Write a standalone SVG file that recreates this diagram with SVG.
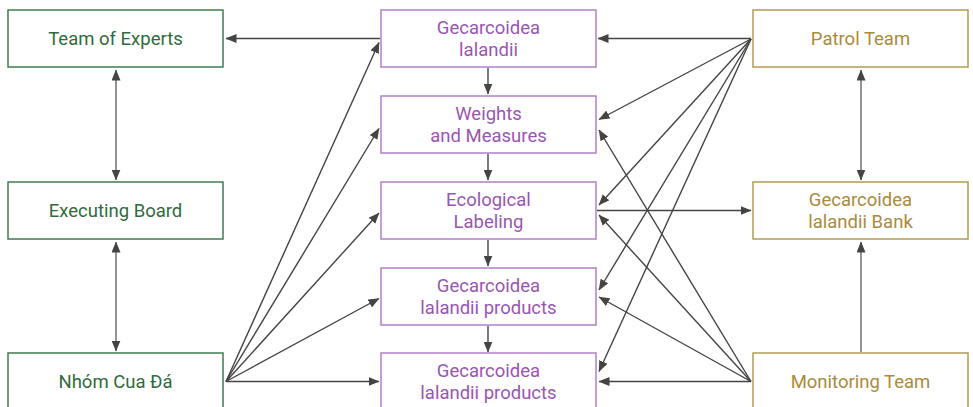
<svg xmlns="http://www.w3.org/2000/svg" width="973" height="407" viewBox="0 0 973 407">
<defs>
<marker id="ah" markerWidth="11" markerHeight="9" refX="10.5" refY="4.5" orient="auto-start-reverse" markerUnits="userSpaceOnUse">
<path d="M0,0 L11,4.5 L0,9 z" fill="#444"/>
</marker>
<style>
.box{fill:#fff;stroke-width:1.5}
.g rect{stroke:#3f7d4e}
.g text{fill:#2f6b3c}
.p rect{stroke:#b17fc7}
.p text{fill:#9a55b3}
.y rect{stroke:#b59a52}
.y text{fill:#a98b3b}
text{font-family:Roboto,"Liberation Sans",sans-serif;font-size:18.5px;text-anchor:middle}
.e line{stroke:#444;stroke-width:1.4;marker-end:url(#ah)}
.e line.d{marker-start:url(#ah)}
.e line.v{stroke:#666}
</style>
</defs>
<rect width="973" height="407" fill="#fff"/>
<g class="e" id="connectors">
<line x1="751" y1="38.5" x2="598" y2="38.5"/>
<line x1="380" y1="38.5" x2="226" y2="38.5"/>
<line class="d v" x1="116" y1="70" x2="116" y2="180"/>
<line class="d v" x1="116" y1="242" x2="116" y2="351"/>
<line class="d v" x1="861" y1="70" x2="861" y2="180"/>
<line class="v" x1="861" y1="352" x2="861" y2="242"/>
<line x1="488" y1="68" x2="488" y2="94"/>
<line x1="488" y1="154" x2="488" y2="180"/>
<line x1="488" y1="240" x2="488" y2="266"/>
<line x1="488" y1="326" x2="488" y2="352"/>
<line x1="751" y1="39" x2="599" y2="119.5"/>
<line x1="751" y1="39" x2="599" y2="205"/>
<line x1="751" y1="39" x2="599" y2="290"/>
<line x1="751" y1="39" x2="599" y2="371.5"/>
<line x1="751" y1="381.5" x2="599" y2="130"/>
<line x1="751" y1="381.5" x2="599" y2="215"/>
<line x1="751" y1="381.5" x2="599" y2="297"/>
<line x1="751" y1="381.5" x2="599" y2="381.5"/>
<line x1="597" y1="210.5" x2="751" y2="210.5"/>
<line x1="226" y1="381.5" x2="379" y2="42.5"/>
<line x1="226" y1="381.5" x2="379" y2="128.5"/>
<line x1="226" y1="381.5" x2="379" y2="213"/>
<line x1="226" y1="381.5" x2="379" y2="298.5"/>
<line x1="226" y1="381.5" x2="379" y2="381.5"/>
</g>
<g id="team-of-experts" class="g"><rect class="box" x="8" y="10" width="215" height="57"/><text x="115.5" y="44.5">Team of Experts</text></g>
<g id="executing-board" class="g"><rect class="box" x="8" y="182" width="215" height="57"/><text x="115.5" y="216.5">Executing Board</text></g>
<g id="nhom-cua-da" class="g"><rect class="box" x="8" y="353" width="215" height="57"/><text x="115.5" y="388">Nhóm Cua Đá</text></g>
<g id="gecarcoidea-lalandii" class="p"><rect class="box" x="381" y="10" width="215" height="57"/><text x="488.5" y="34">Gecarcoidea</text><text x="488.5" y="56">lalandii</text></g>
<g id="weights-and-measures" class="p"><rect class="box" x="381" y="96" width="215" height="57"/><text x="488.5" y="120">Weights</text><text x="488.5" y="142">and Measures</text></g>
<g id="ecological-labeling" class="p"><rect class="box" x="381" y="182" width="215" height="57"/><text x="488.5" y="206">Ecological</text><text x="488.5" y="228">Labeling</text></g>
<g id="products-1" class="p"><rect class="box" x="381" y="268" width="215" height="57"/><text x="488.5" y="292">Gecarcoidea</text><text x="488.5" y="314">lalandii products</text></g>
<g id="products-2" class="p"><rect class="box" x="381" y="353" width="215" height="57"/><text x="488.5" y="377">Gecarcoidea</text><text x="488.5" y="399">lalandii products</text></g>
<g id="patrol-team" class="y"><rect class="box" x="753" y="10" width="215" height="57"/><text x="860.5" y="44.5">Patrol Team</text></g>
<g id="gecarcoidea-lalandii-bank" class="y"><rect class="box" x="753" y="182" width="215" height="57"/><text x="860.5" y="206">Gecarcoidea</text><text x="860.5" y="228">lalandii Bank</text></g>
<g id="monitoring-team" class="y"><rect class="box" x="753" y="353" width="215" height="57"/><text x="860.5" y="388">Monitoring Team</text></g>
</svg>
